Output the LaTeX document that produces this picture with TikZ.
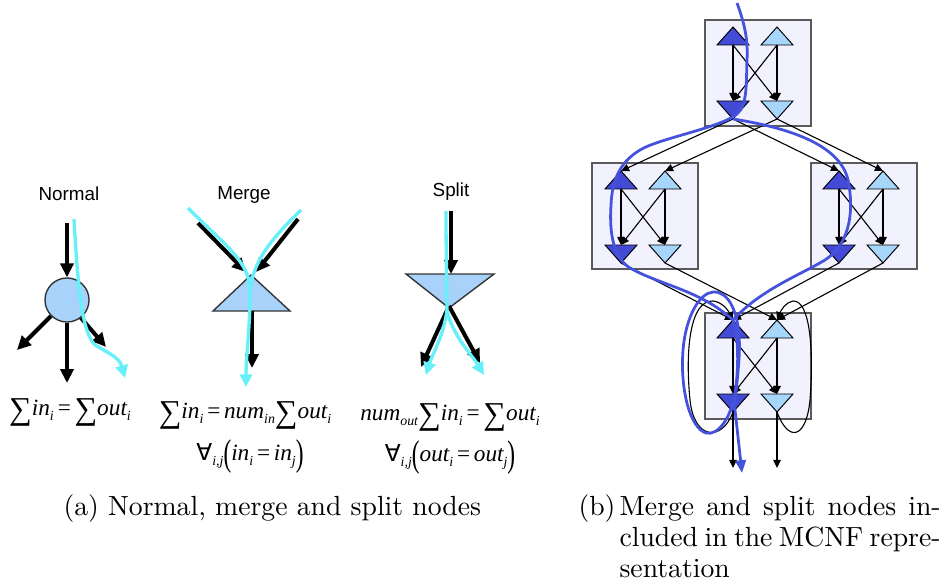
\documentclass[tikz,border=0pt]{standalone}
\usepackage{fontspec}
\usepackage{graphicx}
\usetikzlibrary{arrows.meta}
\newfontfamily\arl{Liberation Sans}
\newfontfamily\tms{Liberation Serif}
\newfontfamily\dvs{DejaVu Sans}
\definecolor{cyanc}{RGB}{102,240,250}
\definecolor{lfill}{RGB}{168,210,250}
\definecolor{darkc}{RGB}{66,74,214}
\definecolor{lightc}{RGB}{166,214,250}
\definecolor{boxc}{RGB}{242,242,254}
\definecolor{bluec}{RGB}{68,82,222}
\definecolor{boxline}{RGB}{90,90,90}
\newcommand\fsum{\raisebox{-1.4pt}{\fontsize{11.5}{11.5}\selectfont\upshape ∑}}
\newcommand\fsb[1]{\raisebox{-2pt}{\fontsize{5}{5}\selectfont #1}}
\newcommand\feq{\hspace{0.9pt}=\hspace{0.9pt}}
\newcommand\fpar[1]{\raisebox{-2.1pt}{\scalebox{1}[1.6]{\upshape #1}}}
\newcommand\fall{{\dvs ∀}}
\newcommand\utri[4]{%
  \filldraw[trs, fill=#4] (#2,#3) -- ++(-16,18) -- ++(32,0) -- cycle;
  \coordinate (#1-a) at (#2,#3);
  \coordinate (#1-b) at (#2,#3+18);}
\newcommand\dtri[4]{%
  \filldraw[trs, fill=#4] (#2,#3) -- ++(-16,0) -- ++(16,18) -- ++(16,-18) -- cycle;
  \coordinate (#1-b) at (#2,#3);
  \coordinate (#1-a) at (#2,#3+18);}
% #1 prefix, #2 box x, #3 box y, #4 dark x, #5 apex y
\newcommand\mcnf[5]{%
  \path[boxs] (#2,#3) rectangle (#2+106,#3+106);
  \utri{#1du}{#4}{#5}{darkc}
  \utri{#1lu}{#4+44}{#5}{lightc}
  \dtri{#1dd}{#4}{#5+74}{darkc}
  \dtri{#1ld}{#4+44}{#5+74}{lightc}
  \draw[edg] (#1du-b) -- (#1dd-b);
  \draw[edg] (#1du-b) -- (#1ld-b);
  \draw[edg] (#1lu-b) -- (#1dd-b);
  \draw[edg] (#1lu-b) -- (#1ld-b);}
\begin{document}
\begin{tikzpicture}[x=0.361pt,y=-0.361pt,
  blk/.style={line width=1.45pt, -{Triangle[length=5pt,width=4.7pt]}},
  cy/.style={draw=cyanc, line width=1.2pt, -{Triangle[length=4.6pt,width=4.4pt]}},
  cyn/.style={draw=cyanc, line width=1.2pt},
  lf/.style={draw=black!80, line width=0.5pt, fill=lfill},
  edg/.style={line width=0.4pt, -{Triangle[length=2.9pt,width=2.7pt]}},
  bl/.style={draw=bluec, line width=1pt},
  boxs/.style={draw=boxline, fill=boxc, line width=0.5pt},
  trs/.style={draw=black, line width=0.35pt},
  lab/.style={font=\arl\fontsize{6.8}{8}\selectfont, inner sep=0},
  fml/.style={font=\tms\itshape\fontsize{8.4}{10}\selectfont, inner sep=0},
  captxt/.style={font=\fontsize{10}{11.2}\selectfont, inner sep=0}]
\useasboundingbox (0,0) rectangle (942,585);

% ---------- (a) Normal ----------
\node[lab] (lnormal) at (69,194) {Normal};
\node[circle, lf, minimum size=15.9pt, inner sep=0] (circ) at (67,300) {};
\coordinate (nin) at (67,223);
\coordinate (nl) at (17,350);
\coordinate (nd) at (67,383);
\coordinate (nr) at (106,347);
\draw[blk] (nin) -- (circ.north);
\draw[blk] (circ.225) -- (nl);
\draw[blk] (circ.south) -- (nd);
\draw[blk] (circ.-52) -- (nr);
\coordinate (nc0) at (74,219);
\coordinate (nc1) at (125,378);
\draw[cy] (nc0) .. controls (78,290) and (82,330) .. (94,344) .. controls (105,352) and (119,356) .. (nc1);
\node[fml] (f1) at (70,412) {\fsum in\fsb{i}\feq\fsum out\fsb{i}};

% ---------- (a) Merge ----------
\node[lab] (lmerge) at (244,195) {Merge};
\filldraw[lf] (251,275) -- (213,311) -- (290,311) -- cycle;
\coordinate (mbase) at (252,311);
\coordinate (ml) at (198,223);
\coordinate (mlt) at (246,272);
\coordinate (mr) at (298,219);
\coordinate (mrt) at (256,272);
\coordinate (mout) at (252,368);
\draw[blk] (ml) -- (mlt);
\draw[blk] (mr) -- (mrt);
\draw[blk] (mbase) -- (mout);
\coordinate (mc0) at (188,208);
\coordinate (mc1) at (246,387);
\coordinate (mc2) at (301,210);
\coordinate (mcm) at (250,292);
\draw[cy] (mc0) .. controls (228,248) and (250,262) .. (250,292) .. controls (250,330) and (246,355) .. (mc1);
\draw[cyn] (mc2) .. controls (272,238) and (252,262) .. (mcm);
\node[fml] (f2) at (245,415) {\fsum in\fsb{i}\feq num\fsb{in}\fsum out\fsb{i}};
\node[fml] (f3) at (250,457) {\fall\fsb{i,j}\fpar{(}in\fsb{i}\feq in\fsb{j}\fpar{)}};

% ---------- (a) Split ----------
\node[lab] (lsplit) at (451,192) {Split};
\filldraw[lf] (406,274) -- (494,274) -- (449,308) -- cycle;
\coordinate (sin) at (451,211);
\coordinate (stop) at (451,274);
\coordinate (sap) at (449,306);
\coordinate (sl) at (421,367);
\coordinate (sr) at (480,363);
\draw[blk] (sin) -- (stop);
\draw[blk] (sap) -- (sl);
\draw[blk] (sap) -- (sr);
\coordinate (sc0) at (446,211);
\coordinate (scm) at (447,310);
\coordinate (scl) at (426,375);
\coordinate (scr) at (484,375);
\draw[cy] (sc0) .. controls (446,260) and (447,290) .. (scm) .. controls (444,335) and (432,355) .. (scl);
\draw[cy] (scm) .. controls (452,335) and (472,355) .. (scr);
\node[fml] (f4) at (450,417) {num\fsb{out}\fsum in\fsb{i}\feq\fsum out\fsb{i}};
\node[fml] (f5) at (450,458) {\fall\fsb{i,j}\fpar{(}out\fsb{i}\feq out\fsb{j}\fpar{)}};

% ---------- (b) MCNF ----------
\mcnf{T}{705}{20}{733}{27}
\mcnf{L}{592}{163}{621}{171}
\mcnf{R}{811}{163}{839}{171}
\mcnf{B}{705}{313}{733}{320}
\draw[edg] (Tdd-a) -- (Ldu-a);
\draw[edg] (Tdd-a) -- (Rdu-a);
\draw[edg] (Tld-a) -- (Llu-a);
\draw[edg] (Tld-a) -- (Rlu-a);
\draw[edg] (Ldd-a) -- (Bdu-a);
\draw[edg] (Lld-a) -- (Blu-a);
\draw[edg] (Rdd-a) -- (Bdu-a);
\draw[edg] (Rld-a) -- (Blu-a);
\draw[edg] (Bdd-a) .. controls (722,442) and (694,440) .. (690,400) .. controls (685,350) and (690,300) .. (713,301) .. controls (722,302) and (728,310) .. (Bdu-a);
\draw[edg] (Bld-a) .. controls (788,442) and (806,440) .. (810,400) .. controls (814,350) and (810,300) .. (793,301) .. controls (786,302) and (781,310) .. (Blu-a);
\coordinate (od) at (733,468);
\coordinate (ol) at (777,468);
\draw[edg] (Bdd-a) -- (od);
\draw[edg] (Bld-a) -- (ol);
% blue flow
\coordinate (b0) at (737,3);
\coordinate (bend) at (742,473);
\draw[bl] (b0) .. controls (745,25) and (748,40) .. (747,60) .. controls (746,80) and (748,105) .. (737,114) .. controls (720,128) and (660,138) .. (640,150) .. controls (620,162) and (612,180) .. (611,205) .. controls (609,235) and (614,258) .. (630,268) .. controls (660,285) and (700,290) .. (Bdu-a);
\draw[bl] (Tdd-a) .. controls (790,128) and (840,145) .. (848,180) .. controls (855,215) and (848,245) .. (825,260) .. controls (800,275) and (760,290) .. (Bdu-a);
\draw[bl, -{Triangle[length=4.6pt,width=3.8pt]}] (Bdu-a) .. controls (740,340) and (738,380) .. (734,398) .. controls (730,418) and (718,436) .. (706,433) .. controls (690,428) and (680,390) .. (683,350) .. controls (686,315) and (700,293) .. (713,292) .. controls (728,291) and (737,310) .. (739,335) .. controls (741,360) and (735,390) .. (735,410) -- (bend);

% ---------- captions ----------
\node[captxt, anchor=base west] (capa) at (63,515) {(a) Normal, merge and split nodes};
\node[captxt, anchor=base west] (capb) at (578,515) {\makebox[14.8pt][l]{(b)}\parbox[t]{115.9pt}{\makebox[115.9pt][s]{Merge and split nodes in-}\\\makebox[115.9pt][s]{cluded in the MCNF repre-}\\sentation}};
\end{tikzpicture}
\end{document}
